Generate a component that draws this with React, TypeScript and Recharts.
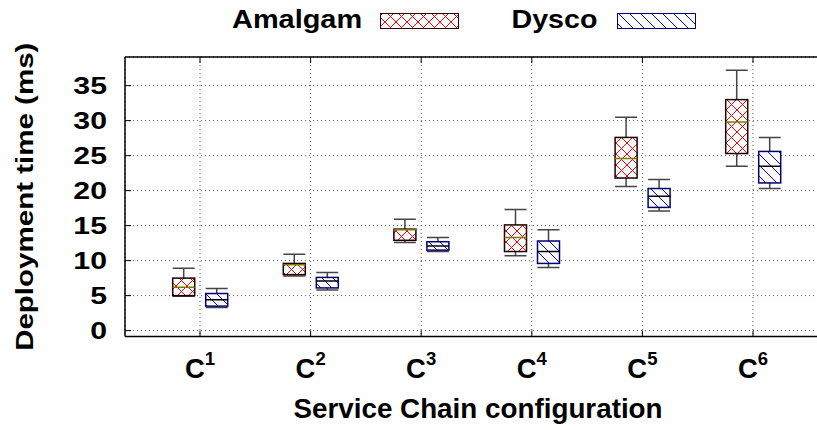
import React from "react";
import {
  Bar,
  CartesianGrid,
  ComposedChart,
  Label,
  Legend,
  ReferenceLine,
  XAxis,
  YAxis,
} from "recharts";

const categories = ["1", "2", "3", "4", "5", "6"];

const amalgamMin = [4.9, 7.8, 12.6, 10.7, 20.6, 23.5];
const amalgamQ1 = [5.0, 8.0, 12.9, 11.3, 21.8, 25.3];
const amalgamMedian = [6.2, 9.4, 14.4, 13.3, 24.6, 29.8];
const amalgamQ3 = [7.5, 9.6, 14.5, 15.1, 27.6, 33.0];
const amalgamMax = [8.9, 10.9, 15.9, 17.3, 30.5, 37.2];

const dyscoMin = [3.3, 5.8, 11.3, 9.0, 17.1, 20.3];
const dyscoQ1 = [3.5, 6.1, 11.5, 9.6, 17.6, 21.1];
const dyscoMedian = [4.4, 7.1, 12.1, 11.3, 19.2, 23.5];
const dyscoQ3 = [5.3, 7.6, 12.7, 12.8, 20.3, 25.6];
const dyscoMax = [6.0, 8.3, 13.3, 14.4, 21.6, 27.6];

const yTicks = [0, 5, 10, 15, 20, 25, 30, 35];
const Y_MIN = -0.84;
const Y_MAX = 39.09;

const data = categories.map((c, i) => ({
  name: c,
  amalgam: [amalgamMin[i], amalgamMax[i]],
  dysco: [dyscoMin[i], dyscoMax[i]],
  amalgamStats: {
    min: amalgamMin[i],
    q1: amalgamQ1[i],
    med: amalgamMedian[i],
    q3: amalgamQ3[i],
    max: amalgamMax[i],
  },
  dyscoStats: {
    min: dyscoMin[i],
    q1: dyscoQ1[i],
    med: dyscoMedian[i],
    q3: dyscoQ3[i],
    max: dyscoMax[i],
  },
}));

const FONT = "'Liberation Sans', Arial, Helvetica, sans-serif";
const PLOT_TOP = 57;
const PLOT_BOTTOM = 336.5;

function StretchText({ x, y, sx = 1, rotate = 0, size, anchor = "start", children }: any) {
  return (
    <text
      transform={`translate(${x},${y}) rotate(${rotate}) scale(${sx},1)`}
      textAnchor={anchor}
      fontFamily={FONT}
      fontWeight="bold"
      fontSize={size}
      fill="#000"
    >
      {children}
    </text>
  );
}

// box drawn from the [min, max] range bar; quartiles placed on the same scale
function makeBox(key: string, border: string, fillId: string, medianColor: string) {
  return (props: any) => {
    const { x, y, width, height, payload } = props;
    const s = payload[key];
    const top = Math.min(y, y + height);
    const h = Math.abs(height);
    const k = h / (s.max - s.min);
    const py = (v: number) => top + (s.max - v) * k;
    const cx = x + width / 2;
    const whisker = "#444";
    return (
      <g>
        <line x1={cx} x2={cx} y1={py(s.max)} y2={py(s.q3)} stroke={whisker} strokeWidth={1.5} />
        <line x1={cx} x2={cx} y1={py(s.q1)} y2={py(s.min)} stroke={whisker} strokeWidth={1.5} />
        <line x1={x} x2={x + width} y1={py(s.max)} y2={py(s.max)} stroke={whisker} strokeWidth={1.5} />
        <line x1={x} x2={x + width} y1={py(s.min)} y2={py(s.min)} stroke={whisker} strokeWidth={1.5} />
        <rect
          x={x}
          y={py(s.q3)}
          width={width}
          height={py(s.q1) - py(s.q3)}
          fill={`url(#${fillId})`}
          stroke={border}
          strokeWidth={1.5}
        />
        <line x1={x} x2={x + width} y1={py(s.med)} y2={py(s.med)} stroke={medianColor} strokeWidth={1.5} />
      </g>
    );
  };
}

const AmalgamBox = makeBox("amalgamStats", "#1a0000", "hatchAmalgam", "#7a7a00");
const DyscoBox = makeBox("dyscoStats", "#000070", "hatchDysco", "#000");

function Patterns({ suffix = "" }: { suffix?: string }) {
  return (
    <defs>
      <pattern id={`hatchAmalgam${suffix}`} width={11} height={11} patternUnits="userSpaceOnUse">
        <rect width={11} height={11} fill="#fff" />
        <path d="M0,0 L11,11 M11,0 L0,11" stroke="#ff0000" strokeWidth={1} />
      </pattern>
      <pattern id={`hatchDysco${suffix}`} width={11} height={11} patternUnits="userSpaceOnUse">
        <rect width={11} height={11} fill="#fff" />
        <path d="M0,0 L11,11 M-1,10 L1,12 M10,-1 L12,1" stroke="#0000ff" strokeWidth={1} />
      </pattern>
    </defs>
  );
}

function LegendContent() {
  return (
    <svg width={817} height={40} style={{ display: "block" }}>
      <Patterns suffix="L" />
      <StretchText x={232} y={27.7} sx={1.13} size={25.6}>
        Amalgam
      </StretchText>
      <rect x={380.5} y={13.5} width={78} height={15} fill="url(#hatchAmalgamL)" stroke="#300" strokeWidth={1} />
      <StretchText x={511.5} y={27.7} sx={1.12} size={25.6}>
        Dysco
      </StretchText>
      <rect x={617.5} y={13.5} width={78} height={15} fill="url(#hatchDyscoL)" stroke="#000070" strokeWidth={1} />
    </svg>
  );
}

function YTick(props: any) {
  const { x, y, payload } = props;
  const left = x + 18;
  return (
    <g>
      <line x1={left} x2={left + 6} y1={y} y2={y} stroke="#000" strokeWidth={1} />
      <StretchText x={x} y={y + 8.7} sx={1.25} size={24.2} anchor="end">
        {payload.value}
      </StretchText>
    </g>
  );
}

function XTick(props: any) {
  const { x, payload } = props;
  return (
    <g>
      <line x1={x} x2={x} y1={PLOT_BOTTOM} y2={PLOT_BOTTOM - 6} stroke="#000" strokeWidth={1} />
      <line x1={x} x2={x} y1={PLOT_TOP} y2={PLOT_TOP + 6} stroke="#000" strokeWidth={1} />
      <text x={x} y={378.3} textAnchor="middle" fontFamily={FONT} fontWeight="bold" fontSize={27.5} fill="#000">
        C
        <tspan dy={-13.3} fontSize={18.5}>
          {payload.value}
        </tspan>
      </text>
    </g>
  );
}

export default function App() {
  return (
    <div
      style={{
        position: "absolute",
        left: 0,
        top: 0,
        width: 817,
        height: 430,
        overflow: "hidden",
        background: "#fff",
      }}
    >
      <ComposedChart
        width={828}
        height={430}
        data={data}
        barGap={11}
        margin={{ top: 17, right: 0, bottom: 53.5, left: 0 }}
      >
        <Patterns />
        <CartesianGrid stroke="#555" strokeDasharray="1 3" strokeWidth={1} />
        <Legend
          verticalAlign="top"
          align="left"
          wrapperStyle={{ top: 0, left: 0, width: 817, height: 40 }}
          content={() => <LegendContent />}
        />
        <XAxis
          dataKey="name"
          padding={{ left: 19.7, right: 19.7 }}
          height={40}
          tickSize={0}
          tickMargin={0}
          tickLine={false}
          axisLine={{ stroke: "#000", strokeWidth: 1.5 }}
          tick={<XTick />}
          interval={0}
        >
          <Label
            content={(p: any) => {
              const vb = p.viewBox;
              return (
                <StretchText x={vb.x + vb.width / 2 + 1.5} y={418.3} size={27.8} anchor="middle">
                  Service Chain configuration
                </StretchText>
              );
            }}
          />
        </XAxis>
        <YAxis
          type="number"
          domain={[Y_MIN, Y_MAX]}
          ticks={yTicks}
          allowDataOverflow
          width={125}
          tickSize={0}
          tickMargin={18}
          tickLine={false}
          axisLine={{ stroke: "#000", strokeWidth: 1.5 }}
          tick={<YTick />}
        >
          <Label
            content={(p: any) => {
              const vb = p.viewBox;
              return (
                <StretchText x={33.3} y={vb.y + vb.height / 2} rotate={-90} sx={1.23} size={24} anchor="middle">
                  Deployment time (ms)
                </StretchText>
              );
            }}
          />
        </YAxis>
        <ReferenceLine y={Y_MAX} stroke="#000" strokeWidth={1.5} />
        <Bar dataKey="amalgam" name="Amalgam" barSize={22} shape={AmalgamBox} isAnimationActive={false} />
        <Bar dataKey="dysco" name="Dysco" barSize={22} shape={DyscoBox} isAnimationActive={false} />
      </ComposedChart>
    </div>
  );
}
